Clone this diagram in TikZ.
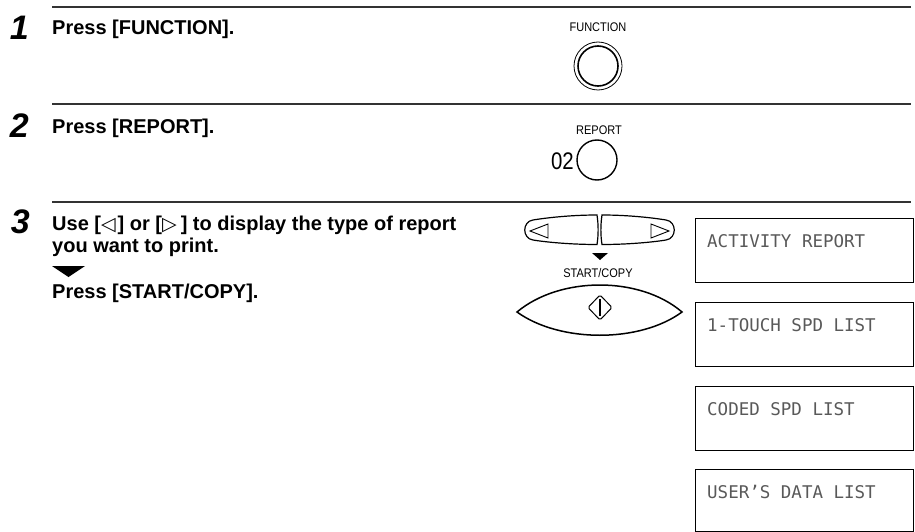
\documentclass[tikz,border=0pt]{standalone}
\usepackage{fontspec}
\setmainfont{Liberation Sans}
\newfontfamily\symfont{DejaVu Sans}
\newfontfamily\lcdfont{DejaVu Sans Mono}
\newcommand{\lefttri}{{\symfont\fontsize{19}{19}\selectfont ◁}}
\newcommand{\righttri}{{\symfont\fontsize{19}{19}\selectfont ▷}}
\begin{document}
\begin{tikzpicture}[x=1pt,y=-1pt,
  rule/.style={draw=black!80,line width=1.4pt},
  stepnum/.style={anchor=base east,inner sep=0pt,font=\fontsize{34}{34}\selectfont\bfseries\itshape},
  stepline/.style={anchor=base west,inner sep=0pt,font=\fontsize{20}{22}\selectfont\bfseries},
  keylabel/.style={anchor=base,inner sep=0pt,font=\fontsize{12.5}{13}\selectfont,xscale=0.88},
  lcdbox/.style={draw=black,line width=1.1pt,minimum width=218pt,minimum height=64pt,anchor=north west},
  lcdtext/.style={anchor=base west,inner sep=0pt,text=black!65,font=\fontsize{17.5}{18}\lcdfont},
  keyline/.style={draw=black,line width=1.2pt}]
\useasboundingbox (0,0) rectangle (915,532);

% rules
\coordinate (r1a) at (52,7);   \coordinate (r1b) at (911,7);
\coordinate (r2a) at (52,104); \coordinate (r2b) at (911,104);
\coordinate (r3a) at (52,202); \coordinate (r3b) at (911,202);
\draw[rule] (r1a) -- (r1b);
\draw[rule] (r2a) -- (r2b);
\draw[rule] (r3a) -- (r3b);

% step numbers
\node[stepnum] (n1) at (29,40) {1};
\node[stepnum] (n2) at (29,137) {2};
\node[stepnum] (n3) at (30,233) {3};

% step texts
\node[stepline] (t1) at (52,35) {Press [FUNCTION].};
\node[stepline] (t2) at (52,133) {Press [REPORT].};
\node[stepline] (t3a) at (52,230) {Use [\lefttri\kern2pt] or [\righttri\kern4pt] to display the type of report};
\node[stepline] (t3b) at (52,252) {you want to print.};
\fill (52,266) -- (85,266) -- (68.5,277) -- cycle;
\node[stepline] (t3c) at (52,298) {Press [START/COPY].};

% FUNCTION key
\node[keylabel] (lf) at (598,32) {FUNCTION};
\draw[line width=0.8pt] (598,66) circle (24);
\draw[line width=1.6pt] (598,66) circle (20);

% REPORT key
\node[keylabel] (lr) at (599,135) {REPORT};
\node[anchor=base east,inner sep=0pt,font=\fontsize{24}{24}\selectfont,xscale=0.85] (z2) at (574,169) {02};
\draw[line width=1.4pt] (597,160) circle (20);

% arrow keys
\draw[keyline] (597,215) .. controls (570,215) and (545,218) .. (533,220)
  .. controls (522,221.5) and (522,238.5) .. (533,240)
  .. controls (545,242) and (570,244.5) .. (597,244.5)
  .. controls (598.5,235) and (598.5,225) .. (597,215) -- cycle;
\draw[line width=0.9pt,line join=miter] (548,224) -- (530,231) -- (548,238) -- cycle;
\draw[keyline] (602,215) .. controls (629,215) and (654,218) .. (666,220)
  .. controls (677,221.5) and (677,238.5) .. (666,240)
  .. controls (654,242) and (629,244.5) .. (602,244.5)
  .. controls (600.5,235) and (600.5,225) .. (602,215) -- cycle;
\draw[line width=0.9pt,line join=miter] (651,224) -- (669,231) -- (651,238) -- cycle;
\fill (592,253) -- (608,253) -- (600,260) -- cycle;
\node[keylabel] (ls) at (598,277) {START/COPY};

% start key
\draw[line width=1.5pt] (517,312) .. controls (560,276) and (640,276) .. (682,312)
  .. controls (640,343) and (560,343) .. (517,312) -- cycle;
\draw[line width=1pt,rounded corners=1.5pt] (600,295) -- (612,307.5) -- (600,320) -- (588,307.5) -- cycle;
\draw[line width=2pt] (600,299) -- (600,316);

% display boxes
\node[lcdbox] (b1) at (695,218) {};
\node[lcdbox] (b2) at (695,302) {};
\node[lcdbox] (b3) at (695,386) {};
\node[lcdbox,minimum height=62pt] (b4) at (695,469) {};
\node[lcdtext] (d1) at (707,247) {ACTIVITY REPORT};
\node[lcdtext] (d2) at (707,331) {1-TOUCH SPD LIST};
\node[lcdtext] (d3) at (707,415) {CODED SPD LIST};
\node[lcdtext] (d4) at (707,498) {USER’S DATA LIST};
\end{tikzpicture}
\end{document}
